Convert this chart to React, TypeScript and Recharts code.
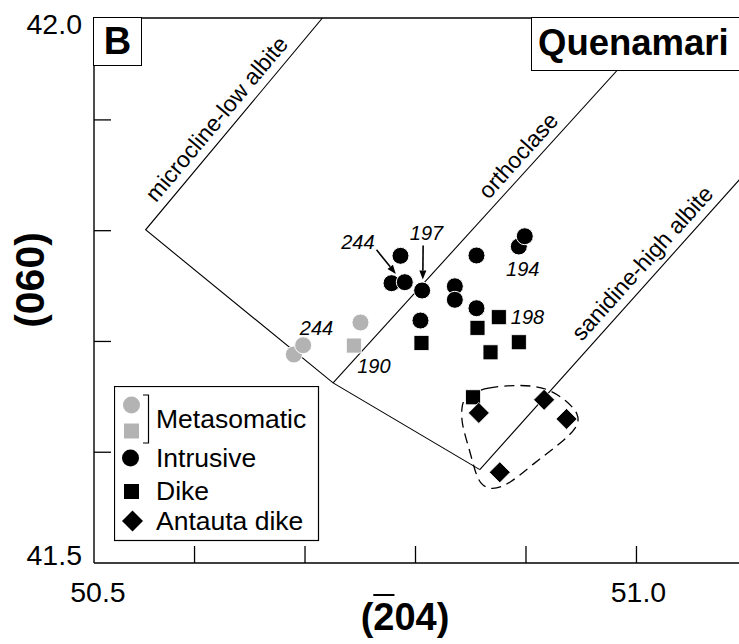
import React from 'react';
import { ComposedChart, XAxis, YAxis, Scatter, Line, ReferenceLine, ReferenceDot } from 'recharts';

const FONT = '"Liberation Sans", Arial, Helvetica, sans-serif';
const GRAY = '#b3b3b3';

// frame limits (frame sits a hair inside 50.5 / 42.0)
const xMin = 50.509;
const xMax = 51.11;
const yMin = 41.5;
const yMax = 41.992;
const xTicks = [xMin, 50.6, 50.7, 50.8, 50.9, 51.0, 51.1];
const yTicks = [yMin, 41.6, 41.7, 41.8, 41.9, yMax];

// samples
const metaCircles = [
  { x: 50.6899, y: 41.6882 },
  { x: 50.6983, y: 41.6966 },
  { x: 50.7502, y: 41.7171 },
];
const metaSquares = [{ x: 50.7442, y: 41.6963 }];
const intrusive = [
  { x: 50.7864, y: 41.7773 },
  { x: 50.7783, y: 41.7526 },
  { x: 50.7903, y: 41.7535 },
  { x: 50.806, y: 41.746 },
  { x: 50.8552, y: 41.7776 },
  { x: 50.8935, y: 41.7857 },
  { x: 50.8989, y: 41.795 },
  { x: 50.8356, y: 41.7498 },
  { x: 50.8356, y: 41.7376 },
  { x: 50.8552, y: 41.73 },
  { x: 50.8045, y: 41.7189 },
];
const dike = [
  { x: 50.8054, y: 41.6987 },
  { x: 50.8561, y: 41.7123 },
  { x: 50.8754, y: 41.7219 },
  { x: 50.8679, y: 41.6902 },
  { x: 50.8935, y: 41.6993 },
  { x: 50.8521, y: 41.6496 },
];
const antauta = [
  { x: 50.8573, y: 41.6355 },
  { x: 50.9164, y: 41.6473 },
  { x: 50.9367, y: 41.6301 },
  { x: 50.8763, y: 41.5819 },
];

// feldspar reference lines
const microclineLine = [
  { x: 50.7158, y: yMax },
  { x: 50.5557, y: 41.8008 },
  { x: 50.7254, y: 41.6626 },
  { x: 50.8582, y: 41.5843 },
];
const orthoclaseLine = [
  { x: 50.7254, y: 41.6626 },
  { x: 51.0256, y: yMax },
];
const sanidineLine = [
  { x: 50.8582, y: 41.5843 },
  { x: 51.11, y: 41.8648 },
];

// dashed field around the Antauta dike
const antautaField = [
  { x: 50.8446, y: 41.6512 },
  { x: 50.8643, y: 41.6586 },
  { x: 50.8944, y: 41.6611 },
  { x: 50.9186, y: 41.6586 },
  { x: 50.9367, y: 41.6466 },
  { x: 50.9481, y: 41.6346 },
  { x: 50.9472, y: 41.6225 },
  { x: 50.9306, y: 41.6075 },
  { x: 50.9064, y: 41.5895 },
  { x: 50.8853, y: 41.5714 },
  { x: 50.8688, y: 41.5654 },
  { x: 50.8582, y: 41.5714 },
  { x: 50.8537, y: 41.5834 },
  { x: 50.8491, y: 41.6015 },
  { x: 50.8416, y: 41.6256 },
  { x: 50.8416, y: 41.6406 },
];

const sampleLabels = [
  { x: 50.7104, y: 41.7121, text: '244' },
  { x: 50.7623, y: 41.6778, text: '190' },
  { x: 50.7478, y: 41.7896, text: '244' },
  { x: 50.81, y: 41.7977, text: '197' },
  { x: 50.8971, y: 41.7658, text: '194' },
  { x: 50.9014, y: 41.7219, text: '198' },
];
const lineLabels = [
  { x: 50.6199, y: 41.901, angle: -50, text: 'microcline-low albite' },
  { x: 50.8929, y: 41.8679, angle: -48, text: 'orthoclase' },
  { x: 51.0052, y: 41.7708, angle: -48, text: 'sanidine-high albite' },
];
const arrows = [
  { from: { x: 50.7647, y: 41.7827 }, to: { x: 50.7822, y: 41.761 } },
  { from: { x: 50.8069, y: 41.7866 }, to: { x: 50.8066, y: 41.7559 } },
];

const circleShape = (fill: string) => (p: any) =>
  <circle cx={p.cx} cy={p.cy} r={8.5} fill={fill} stroke="#fff" strokeWidth={1} />;
const squareShape = (fill: string) => (p: any) =>
  <rect x={p.cx - 7.5} y={p.cy - 7.5} width={15} height={15} fill={fill} stroke="#fff" strokeWidth={0.8} />;
const diamondShape = (p: any) => (
  <polygon
    points={`${p.cx},${p.cy - 10.5} ${p.cx + 10.5},${p.cy} ${p.cx},${p.cy + 10.5} ${p.cx - 10.5},${p.cy}`}
    fill="#000"
    stroke="#fff"
    strokeWidth={0.8}
  />
);

const XTick = (props: any) => {
  const { x, y, payload } = props;
  const v = payload.value;
  const edge = v === xMin;
  const label = edge ? '50.5' : Math.abs(v - 51.0) < 1e-6 ? '51.0' : '';
  return (
    <g>
      {!edge && <line x1={x} y1={y} x2={x} y2={y - 17} stroke="#000" strokeWidth={1.3} />}
      {label && (
        <text x={x + (edge ? 4 : 2)} y={y + 29} textAnchor="middle" dominantBaseline="central"
          fontSize={28.5} fontFamily={FONT} fill="#000">{label}</text>
      )}
    </g>
  );
};

const YTick = (props: any) => {
  const { x, y, payload } = props;
  const v = payload.value;
  const isTop = v === yMax;
  const isBottom = v === yMin;
  const label = isTop ? '42.0' : isBottom ? '41.5' : '';
  return (
    <g>
      {!isTop && !isBottom && <line x1={x} y1={y} x2={x + 17} y2={y} stroke="#000" strokeWidth={1.3} />}
      {label && (
        <text x={x - 12} y={y + (isTop ? 6 : -8)} textAnchor="end" dominantBaseline="central"
          fontSize={28.5} fontFamily={FONT} fill="#000">{label}</text>
      )}
    </g>
  );
};

const Arrow = (p: any) => {
  const { x1, y1, x2, y2 } = p;
  const dx = x2 - x1;
  const dy = y2 - y1;
  const len = Math.sqrt(dx * dx + dy * dy) || 1;
  const ux = dx / len;
  const uy = dy / len;
  const hl = 9;
  const hw = 3.5;
  const bx = x2 - ux * hl;
  const by = y2 - uy * hl;
  return (
    <g>
      <line x1={x1} y1={y1} x2={bx} y2={by} stroke="#000" strokeWidth={1.6} />
      <polygon
        points={`${x2},${y2} ${bx - uy * hw},${by + ux * hw} ${bx + uy * hw},${by - ux * hw}`}
        fill="#000"
      />
    </g>
  );
};

const LegendBox = () => (
  <svg width={206} height={156} style={{ position: 'absolute', left: 114, top: 386 }}>
    <rect x={0.5} y={0.5} width={204} height={154} fill="#fff" stroke="#000" strokeWidth={1.2} />
    <circle cx={17.5} cy={19} r={8.5} fill={GRAY} />
    <rect x={10} y={37.5} width={15} height={15} fill={GRAY} />
    <path d="M29 9 H34.5 V57 H29" fill="none" stroke="#000" strokeWidth={1.2} />
    <circle cx={16.5} cy={72} r={8.5} fill="#000" />
    <rect x={10} y={98} width={15} height={15} fill="#000" />
    <polygon points="18.5,124.5 29,135 18.5,145.5 8,135" fill="#000" />
    {[
      { text: 'Metasomatic', y: 33 },
      { text: 'Intrusive', y: 72 },
      { text: 'Dike', y: 105 },
      { text: 'Antauta dike', y: 135 },
    ].map((r) => (
      <text key={r.text} x={42} y={r.y} dominantBaseline="central" fontSize={26.5} fontFamily={FONT} fill="#000">
        {r.text}
      </text>
    ))}
  </svg>
);

export default function App() {
  return (
    <div style={{ position: 'absolute', left: 0, top: 0, width: 739, height: 644, overflow: 'hidden', background: '#fff' }}>
      <ComposedChart width={778} height={644} margin={{ top: 18, right: 20, bottom: 21, left: 34 }}>
        <XAxis
          type="number"
          dataKey="x"
          domain={[xMin, xMax]}
          ticks={xTicks}
          allowDataOverflow
          height={60}
          tickSize={0}
          tickMargin={0}
          tick={<XTick />}
          axisLine={{ stroke: '#000', strokeWidth: 1.4 }}
          tickLine={false}
          interval={0}
        />
        <YAxis
          type="number"
          dataKey="y"
          domain={[yMin, yMax]}
          ticks={yTicks}
          allowDataOverflow
          width={60}
          tickSize={0}
          tickMargin={0}
          tick={<YTick />}
          axisLine={{ stroke: '#000', strokeWidth: 1.4 }}
          tickLine={false}
          interval={0}
        />
        <ReferenceLine y={yMax} stroke="#000" strokeWidth={1.4} ifOverflow="visible" />

        <Line data={microclineLine} dataKey="y" type="linear" stroke="#000" strokeWidth={1.1} dot={false} isAnimationActive={false} />
        <Line data={orthoclaseLine} dataKey="y" type="linear" stroke="#000" strokeWidth={1.1} dot={false} isAnimationActive={false} />
        <Line data={sanidineLine} dataKey="y" type="linear" stroke="#000" strokeWidth={1.1} dot={false} isAnimationActive={false} />
        <Line data={antautaField} dataKey="y" type="basisClosed" stroke="#000" strokeWidth={1.3} strokeDasharray="10 6" dot={false} isAnimationActive={false} />

        <Scatter data={metaCircles} shape={circleShape(GRAY)} isAnimationActive={false} />
        <Scatter data={metaSquares} shape={squareShape(GRAY)} isAnimationActive={false} />
        <Scatter data={intrusive} shape={circleShape('#000')} isAnimationActive={false} />
        <Scatter data={dike} shape={squareShape('#000')} isAnimationActive={false} />
        <Scatter data={antauta} shape={diamondShape} isAnimationActive={false} />

        {arrows.map((a, i) => (
          <ReferenceLine key={`ar${i}`} segment={[a.from, a.to]} ifOverflow="visible" shape={(p: any) => <Arrow {...p} />} />
        ))}
        {sampleLabels.map((l, i) => (
          <ReferenceDot key={`sl${i}`} x={l.x} y={l.y} r={0} ifOverflow="visible"
            shape={(p: any) => (
              <text x={p.cx} y={p.cy} textAnchor="middle" dominantBaseline="central" fontSize={20}
                fontStyle="italic" fontFamily={FONT} fill="#000">{l.text}</text>
            )}
          />
        ))}
        {lineLabels.map((l, i) => (
          <ReferenceDot key={`ll${i}`} x={l.x} y={l.y} r={0} ifOverflow="visible"
            shape={(p: any) => (
              <text x={p.cx} y={p.cy} textAnchor="middle" dominantBaseline="central" fontSize={23}
                fontFamily={FONT} fill="#000" transform={`rotate(${l.angle} ${p.cx} ${p.cy})`}>{l.text}</text>
            )}
          />
        ))}
      </ComposedChart>

      <div style={{
        position: 'absolute', left: 93, top: 17, width: 49, height: 49, boxSizing: 'border-box',
        border: '1.4px solid #000', background: '#fff', fontFamily: FONT, fontWeight: 'bold',
        fontSize: 38, lineHeight: '46px', textAlign: 'center',
      }}>B</div>
      <div style={{
        position: 'absolute', left: 531, top: 17, width: 240, height: 54, boxSizing: 'border-box',
        border: '1.4px solid #000', background: '#fff', fontFamily: FONT, fontWeight: 'bold',
        fontSize: 36.5, lineHeight: '50px', paddingLeft: 6, whiteSpace: 'nowrap',
      }}>Quenamari</div>

      <LegendBox />

      <div style={{
        position: 'absolute', left: 30, top: 280, transform: 'translate(-50%, -50%) rotate(-90deg)',
        fontFamily: FONT, fontWeight: 'bold', fontSize: 41, lineHeight: 1, whiteSpace: 'nowrap',
      }}>(060)</div>
      <div style={{
        position: 'absolute', left: 405, top: 617, transform: 'translate(-50%, -50%)',
        fontFamily: FONT, fontWeight: 'bold', fontSize: 38, lineHeight: 1, whiteSpace: 'nowrap',
      }}>(<span style={{ textDecoration: 'overline', textDecorationThickness: 2 }}>2</span>04)</div>
    </div>
  );
}
